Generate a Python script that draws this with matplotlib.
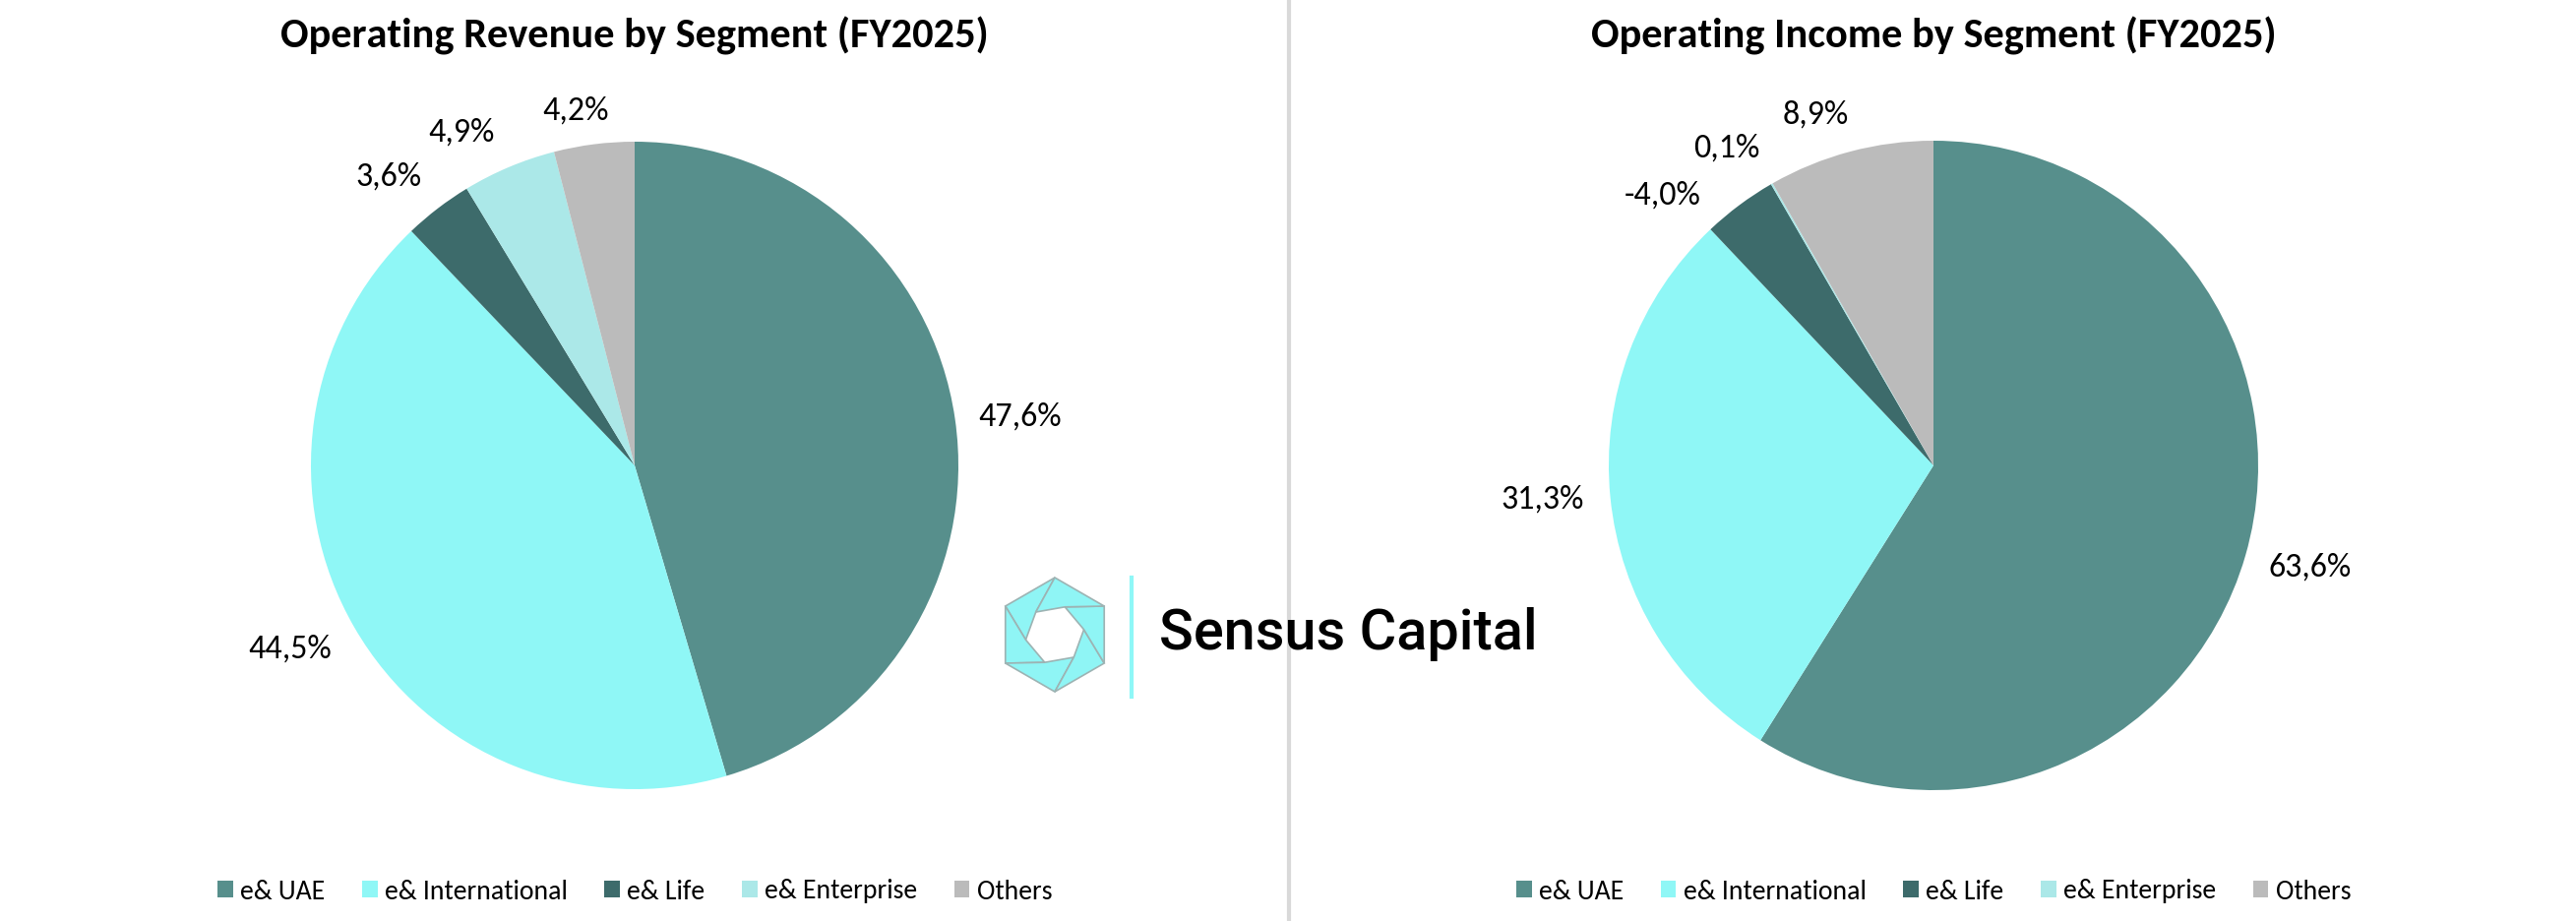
import matplotlib
matplotlib.use('Agg')
import matplotlib.pyplot as plt
from matplotlib.patches import Polygon
import numpy as np

segments = ['e& UAE', 'e& International', 'e& Life', 'e& Enterprise', 'Others']
revenue_share = [47.6, 44.5, 3.6, 4.9, 4.2]
income_share = [63.6, 31.3, -4.0, 0.1, 8.9]
colors = ['#578F8C', '#8FF7F6', '#3D6B6B', '#ABE8E8', '#BBBBBB']

# label placement (angle nudge in degrees, distance in radii), Excel best-fit look
revenue_label_pos = [(-1, 1.2), (-2, 1.206), (3, 1.173), (4.6, 1.16), (2.2, 1.112)]
income_label_pos = [(1, 1.2), (-0.7, 1.21), (8.3, 1.178), (3.2, 1.165), (3.7, 1.138)]

plt.rcParams['font.family'] = ['Carlito', 'DejaVu Sans']

W, H = 2618, 936
fig = plt.figure(figsize=(W / 100, H / 100), dpi=100)


def px_axes(cx, cy, half):
    return fig.add_axes([(cx - half) / W, (H - cy - half) / H, 2 * half / W, 2 * half / H])


def fmt(v):
    return f'{v:.1f}%'.replace('.', ',')


def draw_pie(cx, cy, r, values, title, label_pos):
    lim = 1.45
    ax = px_axes(cx, cy, lim * r)
    wedges, _, autotexts = ax.pie(
        np.abs(values), colors=colors, startangle=90, counterclock=False,
        autopct='%1.1f', pctdistance=1.19,
        wedgeprops=dict(linewidth=0),
        textprops=dict(fontsize=24.5, color='black'),
    )
    for w, t, v, (nudge, dist) in zip(wedges, autotexts, values, label_pos):
        ang = np.deg2rad((w.theta1 + w.theta2) / 2 + nudge)
        t.set_position((dist * np.cos(ang), dist * np.sin(ang)))
        t.set_text(fmt(v))
    ax.set_xlim(-lim, lim)
    ax.set_ylim(-lim, lim)
    ax.set_aspect('equal')
    fig.text(cx / W, 1 - 49 / H, title, ha='center', va='baseline',
             fontsize=30.5, fontweight='bold')
    fig.legend(wedges, segments, loc='center', bbox_to_anchor=(cx / W, 1 - 906 / H),
               ncol=5, frameon=False, fontsize=20, handlelength=0.57,
               handleheight=0.57, handletextpad=0.26, columnspacing=1.35,
               borderpad=0, borderaxespad=0)


draw_pie(645, 473, 329, revenue_share, 'Operating Revenue by Segment (FY2025)', revenue_label_pos)
draw_pie(1965, 473, 330, income_share, 'Operating Income by Segment (FY2025)', income_label_pos)

# background layer: divider and logo
bg = fig.add_axes([0, 0, 1, 1], zorder=-1)
bg.set_xlim(0, W)
bg.set_ylim(H, 0)
bg.axis('off')
bg.plot([1310, 1310], [0, H], color='#D9D9D9', lw=3)

lx, ly, R, r = 1072, 645, 58, 30
for k in range(6):
    a0 = np.deg2rad(90 + 60 * k)
    a1 = np.deg2rad(90 + 60 * (k + 1))
    b0 = a0 + np.deg2rad(40)
    b1 = a1 + np.deg2rad(40)
    pts = [(lx + R * np.cos(a0), ly - R * np.sin(a0)),
           (lx + R * np.cos(a1), ly - R * np.sin(a1)),
           (lx + r * np.cos(b1), ly - r * np.sin(b1)),
           (lx + r * np.cos(b0), ly - r * np.sin(b0))]
    bg.add_patch(Polygon(pts, closed=True, facecolor='#8FF5F5', edgecolor='#9DB3B3', lw=1.2))
bg.plot([1150, 1150], [587, 708], color='#8FF7F7', lw=3)
bg.text(1178, 660, 'Sensus Capital', fontsize=41.5, fontweight='medium',
        family=['Roboto', 'DejaVu Sans'], va='baseline', ha='left')

fig.savefig('out.png', dpi=100)
